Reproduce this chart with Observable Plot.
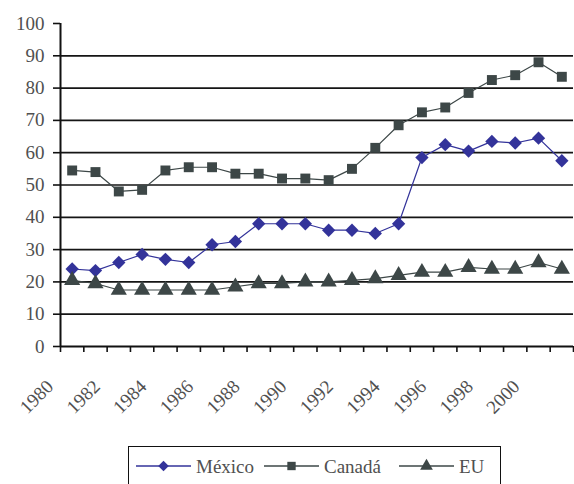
<!DOCTYPE html>
<html>
<head>
<meta charset="utf-8">
<script src="https://cdn.jsdelivr.net/npm/d3@7"></script>
<script src="https://cdn.jsdelivr.net/npm/@observablehq/plot@0.6"></script>
<style>
  body { margin: 0; background: #fff; }
  #wrap { position: relative; width: 574px; height: 484px; overflow: hidden; }
  #legend { position: absolute; left: 128px; top: 446px; width: 373px; height: 44px;
            border: 1.5px solid #111; box-sizing: border-box; }
  #legend svg { display: block; }
</style>
</head>
<body>
<div id="wrap">
  <div id="chart"></div>
  <div id="legend"></div>
</div>
<script>
// ---- data ----
const years = [1980,1981,1982,1983,1984,1985,1986,1987,1988,1989,1990,1991,1992,1993,1994,1995,1996,1997,1998,1999,2000,2001];
const mexico = [24,23.5,26,28.5,27,26,31.5,32.5,38,38,38,36,36,35,38,58.5,62.5,60.5,63.5,63,64.5,57.5];
const canada = [54.5,54,48,48.5,54.5,55.5,55.5,53.5,53.5,52,52,51.5,55,61.5,68.5,72.5,74,78.5,82.5,84,88,83.5];
const eu = [20.5,19.5,17.5,17.5,17.5,17.5,17.5,18.5,19.5,19.5,20,20,20.5,21,22,23,23,24.5,24,24,26,24];
const seriesNames = ["México", "Canadá", "EU"];
const yTicks = [0,10,20,30,40,50,60,70,80,90,100];
const xLabels = [1980,1982,1984,1986,1988,1990,1992,1994,1996,1998,2000];

// ---- styles ----
const colors = {"México": "#33339a", "Canadá": "#3d4747", "EU": "#3d4747"};
const symbols = {"México": "diamond2", "Canadá": "square", "EU": "triangle"};
const radii = {"México": 6, "Canadá": 5.6, "EU": 6};
const font = "'Liberation Serif', 'DejaVu Serif', serif";
const textColor = "#505050";

const seriesValues = [mexico, canada, eu];
const data = seriesNames.flatMap((name, i) =>
  years.map((year, j) => ({series: name, year, value: seriesValues[i][j]})));

const boundaries = [...years.map(y => y - 0.5), years[years.length - 1] + 0.5];

const chart = Plot.plot({
  width: 574,
  height: 440,
  marginLeft: 60,
  marginRight: 1,
  marginTop: 23,
  marginBottom: 94,
  style: {fontFamily: font, background: "#fff"},
  x: {domain: [boundaries[0], boundaries[boundaries.length - 1]], axis: null, label: null},
  y: {domain: [0, 100], axis: null, label: null},
  marks: [
    Plot.ruleY(yTicks.filter(v => v > 0 && v < 100), {stroke: "#151515", strokeWidth: 1.7}),
    Plot.ruleX([boundaries[0]], {stroke: "#111", strokeWidth: 2}),
    Plot.ruleY([0], {stroke: "#111", strokeWidth: 2}),
    Plot.axisY(yTicks, {label: null, tickSize: 7, tickPadding: 9, fontSize: 19, fill: textColor, stroke: "#111", strokeWidth: 1.6}),
    Plot.axisX(boundaries, {label: null, tickSize: 6, tickFormat: () => "", stroke: "#111", strokeWidth: 1.6}),
    Plot.axisX(xLabels, {label: null, tickSize: 0, tickPadding: 0, tickRotate: -45, textAnchor: "end", lineAnchor: "middle",
                         dx: -22, dy: 37, fontSize: 19, fill: textColor, tickFormat: d => String(d)}),
    ...seriesNames.map(name => Plot.line(data.filter(d => d.series === name),
      {x: "year", y: "value", stroke: colors[name], strokeWidth: 1.2})),
    ...seriesNames.map(name => Plot.dot(data.filter(d => d.series === name),
      {x: "year", y: "value", symbol: () => symbols[name], r: radii[name], fill: colors[name], stroke: "none"}))
  ]
});
document.getElementById("chart").appendChild(chart);

// ---- legend ----
const leg = d3.select("#legend").append("svg").attr("width", 373).attr("height", 44);
const itemX = [7, 135, 270]; // line start within legend box
const lineLen = 55;
seriesNames.forEach((name, i) => {
  const g = leg.append("g").attr("transform", `translate(${itemX[i]},19)`);
  g.append("line").attr("x1", 0).attr("x2", lineLen).attr("y1", 0).attr("y2", 0)
    .attr("stroke", colors[name]).attr("stroke-width", 1.5);
  const sym = {diamond2: d3.symbolDiamond2, square: d3.symbolSquare, triangle: d3.symbolTriangle}[symbols[name]];
  g.append("path").attr("transform", `translate(${lineLen / 2},0)`)
    .attr("d", d3.symbol(sym, 70)()).attr("fill", colors[name]);
  g.append("text").attr("x", lineLen + 5).attr("y", 0).attr("dy", "0.35em")
    .attr("font-family", font).attr("font-size", 19).attr("fill", textColor).text(name);
});
</script>
</body>
</html>
